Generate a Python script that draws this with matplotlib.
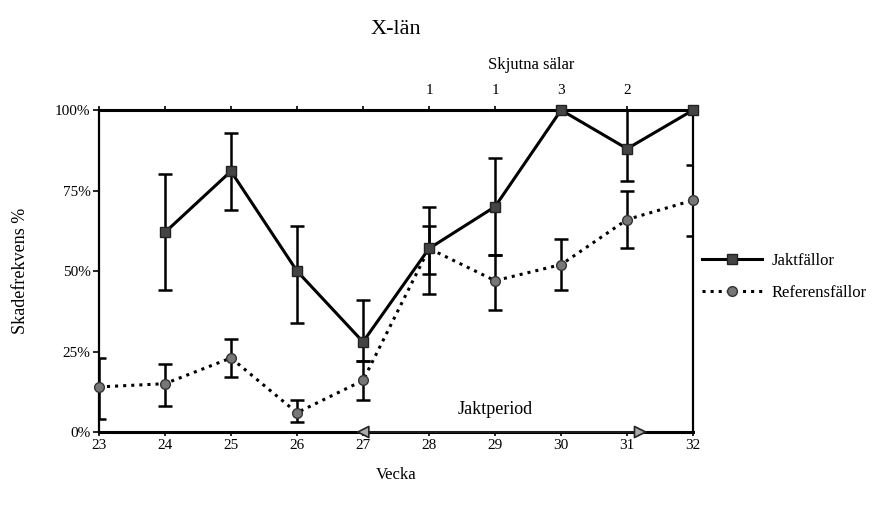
import matplotlib.pyplot as plt
import numpy as np

plt.rcParams['font.family'] = ['Liberation Serif', 'DejaVu Serif']

weeks_jakt = [24, 25, 26, 27, 28, 29, 30, 31, 32]
jakt = [62, 81, 50, 28, 57, 70, 100, 88, 100]
jakt_low = [44, 69, 34, 22, 43, 55, 100, 78, 100]
jakt_high = [80, 93, 64, 41, 70, 85, 100, 100, 100]

weeks_ref = [23, 24, 25, 26, 27, 28, 29, 30, 31, 32]
ref = [14, 15, 23, 6, 16, 57, 47, 52, 66, 72]
ref_low = [4, 8, 17, 3, 10, 49, 38, 44, 57, 61]
ref_high = [23, 21, 29, 10, 22, 64, 55, 60, 75, 83]

shot_weeks = [28, 29, 30, 31]
shot_seals = ['1', '1', '3', '2']

week_ticks = list(range(23, 33))
y_ticks = [0, 25, 50, 75, 100]
y_labels = ['0%', '25%', '50%', '75%', '100%']

fig = plt.figure(figsize=(8.83, 5.11), dpi=100)
ax = fig.add_axes([0.112, 0.1546, 0.673, 0.630])

# error bars
j = np.array(jakt)
r = np.array(ref)
ax.errorbar(weeks_jakt, jakt, yerr=[j - np.array(jakt_low), np.array(jakt_high) - j],
            fmt='none', ecolor='black', elinewidth=1.8, capsize=5, capthick=1.8)
ax.errorbar(weeks_ref, ref, yerr=[r - np.array(ref_low), np.array(ref_high) - r],
            fmt='none', ecolor='black', elinewidth=1.8, capsize=5, capthick=1.8)

# series
ax.plot(weeks_ref, ref, linestyle=':', color='black', linewidth=2.2,
        marker='o', markersize=7, markerfacecolor='#777777', markeredgecolor='#333333',
        clip_on=False, zorder=4, label='Referensfällor')
ax.plot(weeks_jakt, jakt, linestyle='-', color='black', linewidth=2.2,
        marker='s', markersize=7, markerfacecolor='#444444', markeredgecolor='#222222',
        clip_on=False, zorder=5, label='Jaktfällor')

ax.set_xlim(23, 32)
ax.set_ylim(0, 100)
ax.set_xticks(week_ticks)
ax.set_xticklabels([str(w) for w in week_ticks])
ax.set_yticks(y_ticks)
ax.set_yticklabels(y_labels)
ax.tick_params(axis='x', direction='out', length=3, width=1.2, pad=2, labelsize=11,
               top=True, labeltop=False)
ax.tick_params(axis='y', direction='out', length=4, width=1.2, pad=2, labelsize=11)
for side in ['top', 'bottom']:
    ax.spines[side].set_linewidth(2.2)
for side in ['left', 'right']:
    ax.spines[side].set_linewidth(1.6)

# shot seals on top
tr = ax.get_xaxis_transform()
for w, s in zip(shot_weeks, shot_seals):
    ax.text(w, 1.04, s, transform=tr, ha='center', va='bottom', fontsize=11)
ax.text(29.55, 1.115, 'Skjutna sälar', transform=tr, ha='center', va='bottom', fontsize=12)

# hunting period arrow
ax.annotate('', xy=(26.85, 0), xytext=(31.35, 0),
            arrowprops=dict(arrowstyle='<|-|>', fc='#aaaaaa', ec='#222222',
                            lw=1.2, mutation_scale=20),
            annotation_clip=False, zorder=6)
ax.text(29.0, 4.3, 'Jaktperiod', ha='center', va='bottom', fontsize=13)

fig.text(0.448, 0.942, 'X-län', ha='center', va='center', fontsize=16)
fig.text(0.449, 0.07, 'Vecka', ha='center', va='center', fontsize=12)
fig.text(0.023, 0.47, 'Skadefrekvens %', ha='center', va='center', rotation=90, fontsize=13)

handles, labels = ax.get_legend_handles_labels()
fig.legend(handles[::-1], labels[::-1], loc='upper left', bbox_to_anchor=(0.778, 0.535),
           frameon=False, fontsize=12, handlelength=3.6, labelspacing=1.0, handletextpad=0.6)

fig.savefig('out.png', dpi=100)
